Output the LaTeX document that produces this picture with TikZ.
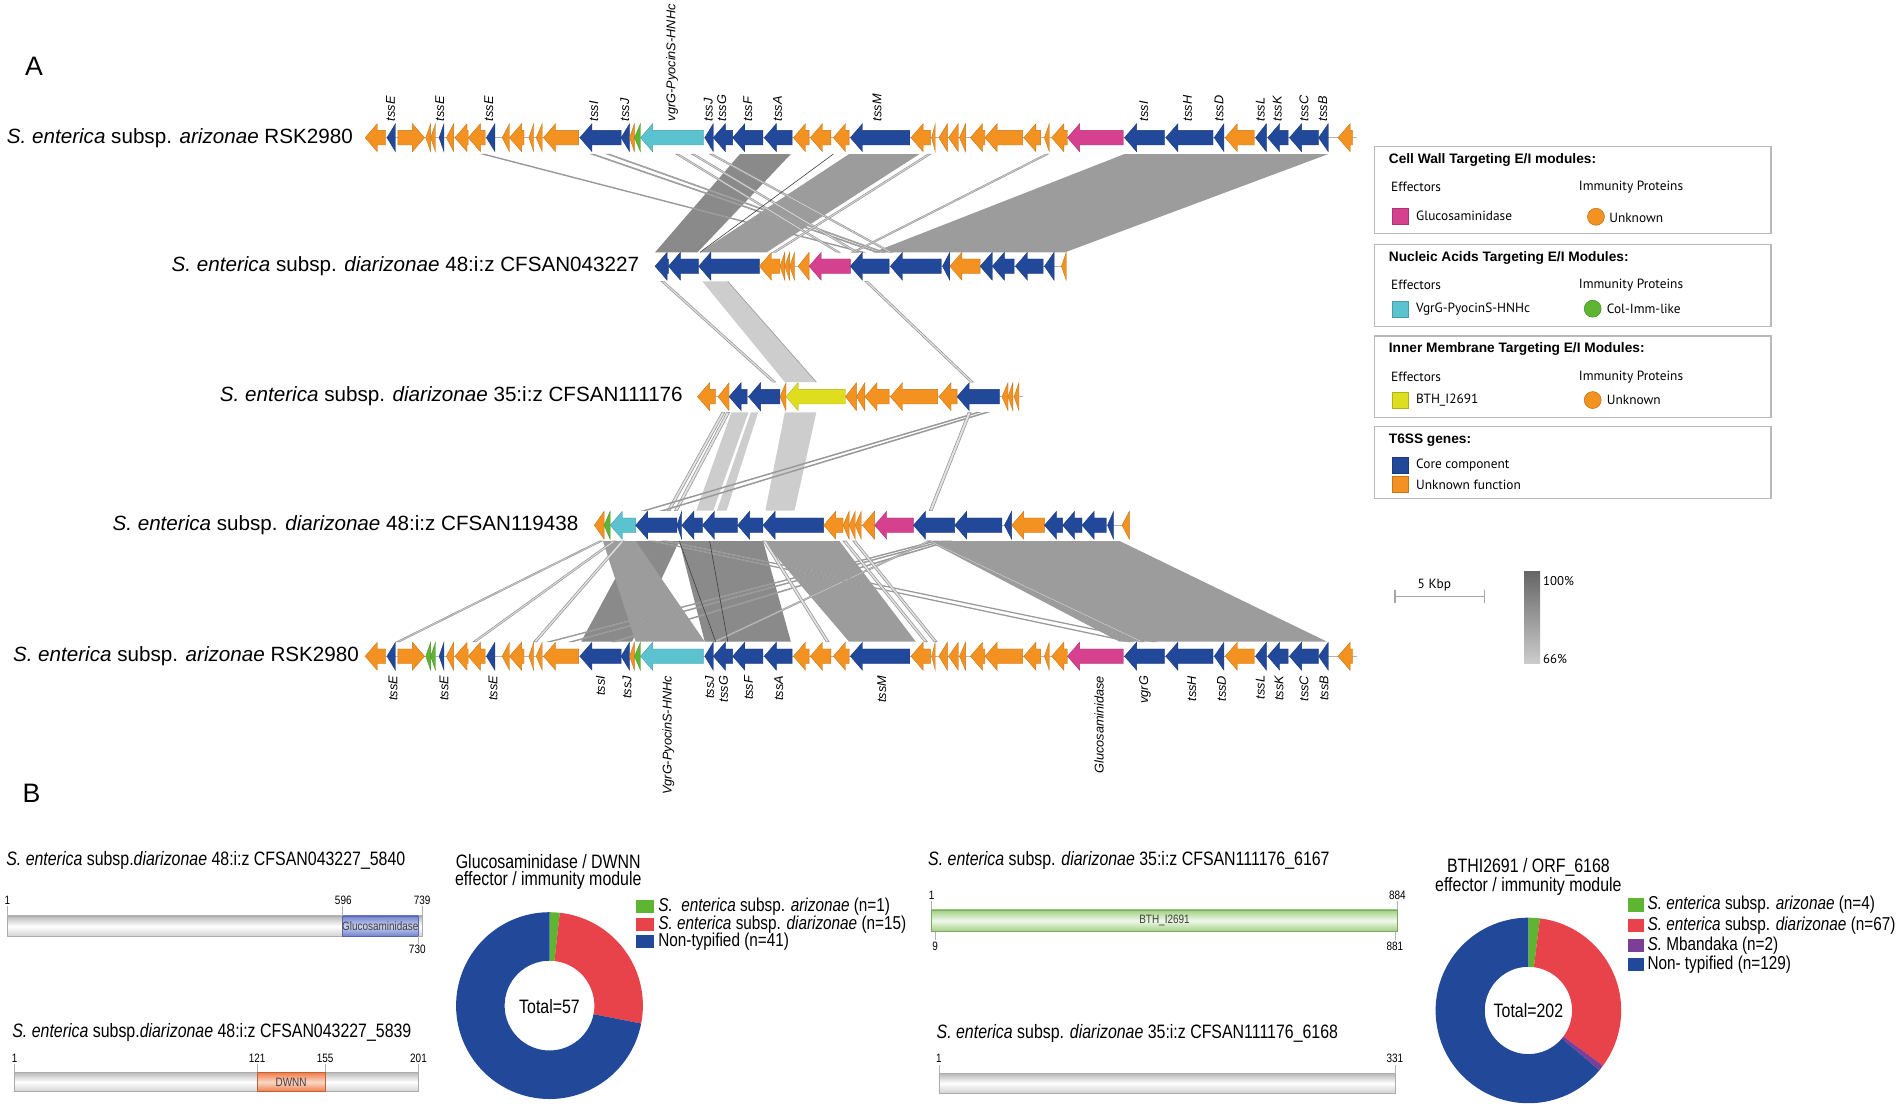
\documentclass[tikz,border=0pt]{standalone}
\usepackage{fontspec}
\setmainfont{Liberation Sans}
\newfontfamily\ptsans{PT Sans}
\newfontfamily\narrowf[FakeStretch=0.82]{Liberation Sans}
\definecolor{cOr}{HTML}{F39221}
\definecolor{cBl}{HTML}{22489A}
\definecolor{cCy}{HTML}{5BC3CF}
\definecolor{cGr}{HTML}{5DB531}
\definecolor{cMa}{HTML}{D6418F}
\definecolor{cYe}{HTML}{DEDD1E}
\definecolor{pRed}{HTML}{E8434A}
\definecolor{pPur}{HTML}{7B3F98}
\definecolor{rDk}{HTML}{8A8A8A}
\definecolor{rMd}{HTML}{9C9C9C}
\definecolor{rLt}{HTML}{CDCDCD}
\definecolor{gTop}{HTML}{666666}
\definecolor{gBot}{HTML}{CCCCCC}
\definecolor{dBl}{HTML}{6F80D0}
\definecolor{dOr}{HTML}{F07A45}
\definecolor{bGr}{HTML}{9FD07F}
\tikzset{
  gene/.style={fill=#1, draw=#1!80!black, line width=0.3pt},
  thn/.style={fill=gray!22, draw=gray!80, line width=0.5pt},
  bbone/.style={draw=gray!60, line width=0.6pt},
  tlab/.style={rotate=90, inner sep=0pt, font=\fontsize{10.5}{12}\selectfont\itshape},
  trk/.style={anchor=east, inner sep=0pt, font=\fontsize{17}{20}\selectfont},
  lbox/.style={draw=gray!55, line width=0.9pt},
  ltitle/.style={anchor=west, inner sep=0pt, font=\bfseries\fontsize{11.3}{13}\selectfont},
  ltext/.style={anchor=west, inner sep=0pt, font=\ptsans\fontsize{11}{13}\selectfont},
  nf/.style={anchor=west, inner sep=0pt, font=\narrowf\fontsize{16}{18}\selectfont},
  nlg/.style={anchor=west, inner sep=0pt, font=\narrowf\fontsize{15.4}{18}\selectfont},
  nfc/.style={inner sep=0pt, font=\narrowf\fontsize{16}{18}\selectfont},
  nsm/.style={inner sep=0pt, font=\narrowf\fontsize{10}{11}\selectfont},
  tck/.style={draw=gray!60, line width=0.4pt},
  pbar/.style={top color=gray!55, bottom color=gray!35, middle color=white, draw=gray!65, line width=0.4pt}
}
\newcommand\gn[5]{%
  \pgfmathsetmacro\gL{#3-#2}%
  \pgfmathsetmacro\gH{min(10,\gL)}%
  \if#4R
    \filldraw[gene=#5] (#3,#1) -- (#3-\gH,#1-11.5) -- (#3-\gH,#1-6) -- (#2,#1-6) -- (#2,#1+6) -- (#3-\gH,#1+6) -- (#3-\gH,#1+11.5) -- cycle;
  \else
    \filldraw[gene=#5] (#2,#1) -- (#2+\gH,#1-11.5) -- (#2+\gH,#1-6) -- (#3,#1-6) -- (#3,#1+6) -- (#2+\gH,#1+6) -- (#2+\gH,#1+11.5) -- cycle;
  \fi}
\newcommand\rib[7]{\fill[#1] (#3,#2) -- (#4,#2) -- (#7,#5) -- (#6,#5) -- cycle;}
\newcommand\thinl[4]{\filldraw[thn] (#2,#1) -- (#2+2.5,#1) -- (#4+2.5,#3) -- (#4,#3) -- cycle;}
\newcommand\rskgenes[3]{%
  \draw[bbone] (301,#1) -- (1119,#1);
  \foreach \xa/\xb/\dd/\cc in {301/318/L/cOr,319/326/L/cBl,328/350/R/cOr,351/355/L/#2,355/359/L/#3,362/366/L/cBl,368/374/L/cOr,375/386/L/cOr,386/400/L/cOr,401/408/L/cBl,414/420/L/cOr,420/432/L/cOr,436/440/L/cOr,442/447/L/cOr,448/477/L/cOr,478/512/L/cBl,512/519/L/cBl,519/523/L/cOr,523/528/L/cGr,528/580/L/cCy,581/588/L/cBl,588/604/L/cBl,604/629/L/cBl,630/653/L/cBl,654/667/L/cOr,668/685/L/cOr,687/700/L/cOr,701/750/L/cBl,751/767/L/cOr,768/771/L/cOr,774/781/L/cOr,782/790/L/cOr,791/796/L/cOr,800/812/L/cOr,812/843/L/cOr,844/858/L/cOr,861/865/L/cOr,867/880/L/cOr,880/926/L/cMa,927/960/L/cBl,961/1000/L/cBl,1001/1009/L/cBl,1010/1034/L/cOr,1035/1044/L/cBl,1045/1062/L/cBl,1063/1087/L/cBl,1087/1095/L/cBl,1103/1115/L/cOr}
    {\gn{#1}{\xa}{\xb}{\dd}{\cc}}}
\begin{document}
\begin{tikzpicture}[x=1pt,y=-1pt]
\fill[white] (0,0) rectangle (1568,914);
\useasboundingbox (0,0) rectangle (1568,914);

% panel letters
\node[font=\fontsize{22}{24}\selectfont] (pA) at (28,55) {A};
\node[font=\fontsize{22}{24}\selectfont] (pB) at (26,654) {B};

% ---------- ribbons 1-2
\rib{rDk}{127}{610}{652}{208}{540}{575}
\rib{rMd}{127}{700}{758}{208}{577}{632}
\rib{rMd}{127}{927}{1095}{208}{720}{878}
\thinl{127}{397}{208}{710}
\thinl{127}{487}{208}{722}
\thinl{127}{500}{208}{727}
\thinl{127}{557}{208}{690}
\thinl{127}{570}{208}{705}
\thinl{127}{585}{208}{733}
\draw[gray!50!black, line width=0.5pt] (687,127) -- (577,208);
\thinl{127}{765}{208}{637}
\thinl{127}{862}{208}{702}
% ---------- ribbons 2-3
\thinl{232}{545}{315}{637}
\rib{rLt}{232}{579}{600}{315}{647}{673}
\draw[gray!80, line width=0.5pt] (600,232) -- (673,315);
\thinl{232}{713}{315}{800}
% ---------- ribbons 3-4
\thinl{340}{595}{421}{550}
\thinl{340}{599}{421}{556}
\rib{rLt}{340}{603}{617}{421}{574}{588}
\rib{rLt}{340}{619}{625}{421}{591}{599}
\rib{rLt}{340}{647}{673}{421}{631}{655}
\thinl{340}{805}{421}{530}
\thinl{340}{812}{421}{545}
\thinl{340}{798}{421}{766}
% ---------- ribbons 4-5
\rib{rDk}{446}{524}{560}{529}{479}{521}
\rib{rMd}{446}{497}{524}{529}{524}{581}
\rib{rDk}{446}{560}{629}{529}{581}{652}
\rib{rMd}{446}{629}{692}{529}{700}{755}
\rib{rMd}{446}{765}{923}{529}{923}{1094}
\thinl{446}{494}{529}{327}
\thinl{446}{505}{529}{390}
\thinl{446}{512}{529}{440}
\thinl{446}{770}{529}{452}
\thinl{446}{776}{529}{470}
\thinl{446}{781}{529}{505}
\thinl{446}{765}{529}{588}
\thinl{446}{537}{529}{930}
\thinl{446}{548}{529}{950}
\thinl{446}{629}{529}{681}
\thinl{446}{695}{529}{762}
\thinl{446}{703}{529}{770}
\thinl{446}{765}{529}{940}
\draw[gray!50!black, line width=0.5pt] (560,446) -- (590,529);
\draw[gray!50!black, line width=0.5pt] (585,446) -- (600,529);

% ---------- track 1
\node[trk] (t1) at (291,113.5) {\textit{S. enterica} subsp. \textit{arizonae} RSK2980};
\rskgenes{113.5}{cOr}{cOr}
\foreach \x/\t [count=\i] in {322/tssE,362.5/tssE,403/tssE,489.5/tssI,515/tssJ,554/vgrG-PyocinS-HNHc,584/tssJ,595/tssG,616.5/tssF,641/tssA,723/tssM,943/tssI,979/tssH,1005/tssD,1039/tssL,1053/tssK,1075/tssC,1090.5/tssB}
  {\node[tlab, anchor=west] (ta\i) at (\x,100) {\t};}

% ---------- track 2
\node[trk] (t2) at (527,219.5) {\textit{S. enterica} subsp. \textit{diarizonae} 48:i:z CFSAN043227};
\draw[bbone] (540,219.5) -- (879,219.5);
\foreach \xa/\xb/\dd/\cc in {540/551/L/cBl,551/576/L/cBl,576/626/L/cBl,626/643/L/cOr,643/647/L/cOr,647/651/L/cOr,651/655/L/cOr,658/667/L/cOr,667/701/L/cMa,701/733/L/cBl,734/776/L/cBl,777/783/L/cBl,783/808/L/cOr,808/818/L/cBl,818/836/L/cBl,837/860/L/cBl,861/869/L/cBl,875/879/L/cOr}
  {\gn{219.5}{\xa}{\xb}{\dd}{\cc}}

% ---------- track 3
\node[trk] (t3) at (563,327) {\textit{S. enterica} subsp. \textit{diarizonae} 35:i:z CFSAN111176};
\draw[bbone] (575,327) -- (843,327);
\foreach \xa/\xb/\dd/\cc in {575/590/L/cOr,592/601/L/cOr,601/616/L/cBl,617/643/L/cBl,643/648/L/cOr,648/697/L/cYe,697/706/L/cOr,706/713/L/cOr,713/733/L/cOr,734/773/L/cOr,774/789/L/cOr,789/824/L/cBl,826/831/L/cOr,831/835/L/cOr,836/840/L/cOr}
  {\gn{327}{\xa}{\xb}{\dd}{\cc}}

% ---------- track 4
\node[trk] (t4) at (477,433) {\textit{S. enterica} subsp. \textit{diarizonae} 48:i:z CFSAN119438};
\draw[bbone] (490,433) -- (931,433);
\foreach \xa/\xb/\dd/\cc in {490/498/L/cOr,498/503/L/cGr,503/524/L/cCy,524/558/L/cBl,558/562/L/cBl,562/579/L/cBl,579/608/L/cBl,608/629/L/cBl,629/679/L/cBl,679/695/L/cOr,695/700/L/cOr,700/705/L/cOr,705/710/L/cOr,711/721/L/cOr,721/753/L/cMa,753/787/L/cBl,787/826/L/cBl,828/834/L/cBl,834/861/L/cOr,861/876/L/cBl,876/892/L/cBl,892/912/L/cBl,913/918/L/cBl,925/931/L/cOr}
  {\gn{433}{\xa}{\xb}{\dd}{\cc}}

% ---------- track 5
\node[trk] (t5) at (296,541) {\textit{S. enterica} subsp. \textit{arizonae} RSK2980};
\rskgenes{541}{cGr}{cGr}
\foreach \x/\t [count=\i] in {324/tssE,366/tssE,406.5/tssE,495/tssI,517/tssJ,551/VgrG-PyocinS-HNHc,585/tssJ,596.5/tssG,617/tssF,642/tssA,727/tssM,906/Glucosaminidase,944/vgrG,982.5/tssH,1007/tssD,1039/tssL,1054.5/tssK,1075/tssC,1091.5/tssB}
  {\node[tlab, anchor=east] (tb\i) at (\x,557) {\t};}

% ---------- legend boxes
\draw[lbox] (1133,121) rectangle (1460,192.4);
\node[ltitle] (l1t) at (1144.8,132) {Cell Wall Targeting E/I modules:};
\node[ltext] (l1e) at (1146.7,154) {Effectors};
\node[ltext] (l1i) at (1301.4,154) {Immunity Proteins};
\filldraw[fill=cMa, draw=cMa!80!black] (1147.6,171.5) rectangle (1161,185);
\node[ltext] (l1g) at (1167.3,178) {Glucosaminidase};
\filldraw[fill=cOr, draw=cOr!75!black] (1315.7,178.7) circle[radius=7pt];
\node[ltext] (l1u) at (1326.5,179.5) {Unknown};

\draw[lbox] (1133,201.5) rectangle (1460,268.8);
\node[ltitle] (l2t) at (1144.8,212.5) {Nucleic Acids Targeting E/I Modules:};
\node[ltext] (l2e) at (1146.7,235) {Effectors};
\node[ltext] (l2i) at (1301.4,235) {Immunity Proteins};
\filldraw[fill=cCy, draw=cCy!80!black] (1147.6,248) rectangle (1161,261.5);
\node[ltext] (l2g) at (1167.3,254.5) {VgrG-PyocinS-HNHc};
\filldraw[fill=cGr, draw=cGr!75!black] (1313,254.5) circle[radius=7pt];
\node[ltext] (l2u) at (1324.5,254.5) {Col-Imm-like};

\draw[lbox] (1133,277) rectangle (1460,344);
\node[ltitle] (l3t) at (1144.8,288) {Inner Membrane Targeting E/I Modules:};
\node[ltext] (l3e) at (1146.7,310.6) {Effectors};
\node[ltext] (l3i) at (1301.4,310.6) {Immunity Proteins};
\filldraw[fill=cYe, draw=cYe!80!black] (1147.6,323) rectangle (1161,336.5);
\node[ltext] (l3g) at (1167.3,329.8) {BTH\_I2691};
\filldraw[fill=cOr, draw=cOr!75!black] (1313,329.8) circle[radius=7pt];
\node[ltext] (l3u) at (1324.5,329.8) {Unknown};

\draw[lbox] (1133,351.8) rectangle (1460,411);
\node[ltitle] (l4t) at (1144.8,363) {T6SS genes:};
\filldraw[fill=cBl, draw=cBl!80!black] (1147.6,377) rectangle (1161,390);
\node[ltext] (l4c) at (1167.3,383.6) {Core component};
\filldraw[fill=cOr, draw=cOr!80!black] (1147.6,393) rectangle (1161,406);
\node[ltext] (l4u) at (1167.3,400) {Unknown function};

% ---------- scale bar and identity gradient
\draw[gray!70, line width=0.9pt] (1150,492) -- (1224,492);
\draw[gray!70, line width=0.9pt] (1150,486) -- (1150,497.5);
\draw[gray!70, line width=0.9pt] (1224,486) -- (1224,497.5);
\node[font=\ptsans\fontsize{11}{13}\selectfont] (kbp) at (1182.5,482) {5 Kbp};
\shade[top color=gTop, bottom color=gBot] (1256.4,471.3) rectangle (1269.6,546.9);
\node[anchor=west, inner sep=0pt, font=\ptsans\fontsize{10.5}{12}\selectfont] (p100) at (1272,479) {100\%};
\node[anchor=west, inner sep=0pt, font=\ptsans\fontsize{10.5}{12}\selectfont] (p66) at (1272,543) {66\%};

% ---------- panel B left
\node[nf] (b1) at (5,709) {\textit{S. enterica} subsp.\textit{diarizonae} 48:i:z CFSAN043227\_5840};
\shade[pbar] (6,755) rectangle (348,772);
\shade[top color=dBl, bottom color=dBl, middle color=dBl!35, draw=dBl!80!black, line width=0.4pt] (282,755) rectangle (345,772);
\node[nsm, text=black!75] (b1d) at (313.5,763.5) {Glucosaminidase};
\draw[tck] (6,747) -- (6,755); \draw[tck] (282,747) -- (282,755); \draw[tck] (348,747) -- (348,755); \draw[tck] (345,772) -- (345,778);
\node[nsm] (n1) at (6,742) {1};
\node[nsm] (n596) at (283,742) {596};
\node[nsm] (n739) at (348,742) {739};
\node[nsm] (n730) at (344,783) {730};

\node[nf] (b2) at (10,851) {\textit{S. enterica} subsp.\textit{diarizonae} 48:i:z CFSAN043227\_5839};
\shade[pbar] (12,884) rectangle (345,900);
\shade[top color=dOr, bottom color=dOr, middle color=dOr!30, draw=dOr!80!black, line width=0.4pt] (212,884) rectangle (268,900);
\node[nsm, text=black!75] (b2d) at (240,892) {DWNN};
\draw[tck] (12,877) -- (12,884); \draw[tck] (212,877) -- (212,884); \draw[tck] (268,877) -- (268,884); \draw[tck] (345,877) -- (345,884);
\node[nsm] (m1) at (12,872.5) {1};
\node[nsm] (m121) at (212,872.5) {121};
\node[nsm] (m155) at (268,872.5) {155};
\node[nsm] (m201) at (345,872.5) {201};

% donut 1
\node[nfc] (d1t1) at (452,710) {Glucosaminidase / DWNN};
\node[nfc] (d1t2) at (452,726) {effector / immunity module};
\begin{scope}[shift={(453,829)}, y=1pt]
  \fill[cGr] (90:77) arc[start angle=90, end angle=83.68, radius=77] -- (83.68:37) arc[start angle=83.68, end angle=90, radius=37] -- cycle;
  \fill[pRed] (83.68:77) arc[start angle=83.68, end angle=-11.05, radius=77] -- (-11.05:37) arc[start angle=-11.05, end angle=83.68, radius=37] -- cycle;
  \fill[cBl] (-11.05:77) arc[start angle=-11.05, end angle=-270, radius=77] -- (-270:37) arc[start angle=-270, end angle=-11.05, radius=37] -- cycle;
\end{scope}
\node[nfc] (tot1) at (453,830) {Total=57};
\fill[cGr] (524.5,742) rectangle (539.5,753);
\fill[pRed] (524.5,756.5) rectangle (539.5,767.5);
\fill[cBl] (524.5,770.5) rectangle (539.5,781.5);
\node[nlg] (lg1) at (542.5,747.5) {\textit{S.}\ \ \textit{enterica} subsp. \textit{arizonae} (n=1)};
\node[nlg] (lg2) at (542.5,762) {\textit{S. enterica} subsp. \textit{diarizonae} (n=15)};
\node[nlg] (lg3) at (542.5,776) {Non-typified (n=41)};

% ---------- panel B right
\node[nf] (c1) at (765,709) {\textit{S. enterica} subsp. \textit{diarizonae} 35:i:z CFSAN111176\_6167};
\shade[top color=bGr, bottom color=bGr, middle color=bGr!15, draw=bGr!80!black, line width=0.4pt] (768,750) rectangle (1152,768);
\node[nsm, text=black!75] (c1d) at (960,759) {BTH\_I2691};
\draw[tck] (768,743) -- (768,750); \draw[tck] (1152,743) -- (1152,750); \draw[tck] (771,768) -- (771,775); \draw[tck] (1150,768) -- (1150,775);
\node[nsm] (k1) at (768,738) {1};
\node[nsm] (k884) at (1152,738) {884};
\node[nsm] (k9) at (771,780) {9};
\node[nsm] (k881) at (1150,780) {881};

\node[nf] (c2) at (772,852) {\textit{S. enterica} subsp. \textit{diarizonae} 35:i:z CFSAN111176\_6168};
\shade[pbar] (774,885) rectangle (1150,901);
\draw[tck] (774,878) -- (774,885); \draw[tck] (1150,878) -- (1150,885);
\node[nsm] (j1) at (774,872.5) {1};
\node[nsm] (j331) at (1150,872.5) {331};

% donut 2
\node[nfc] (d2t1) at (1260,715) {BTHI2691 / ORF\_6168};
\node[nfc] (d2t2) at (1260,730.5) {effector / immunity module};
\begin{scope}[shift={(1260,833)}, y=1pt]
  \fill[cGr] (90:76.5) arc[start angle=90, end angle=82.87, radius=76.5] -- (82.87:36) arc[start angle=82.87, end angle=90, radius=36] -- cycle;
  \fill[pRed] (82.87:76.5) arc[start angle=82.87, end angle=-36.53, radius=76.5] -- (-36.53:36) arc[start angle=-36.53, end angle=82.87, radius=36] -- cycle;
  \fill[pPur] (-36.53:76.5) arc[start angle=-36.53, end angle=-40.1, radius=76.5] -- (-40.1:36) arc[start angle=-40.1, end angle=-36.53, radius=36] -- cycle;
  \fill[cBl] (-40.1:76.5) arc[start angle=-40.1, end angle=-270, radius=76.5] -- (-270:36) arc[start angle=-270, end angle=-40.1, radius=36] -- cycle;
\end{scope}
\node[nfc] (tot2) at (1260,833) {Total=202};
\fill[cGr] (1342,740.5) rectangle (1355,751.5);
\fill[pRed] (1342,757.5) rectangle (1355,768.5);
\fill[pPur] (1342,774) rectangle (1355,785);
\fill[cBl] (1342,789.5) rectangle (1355,800.5);
\node[nlg] (rg1) at (1358,746) {\textit{S. enterica} subsp. \textit{arizonae} (n=4)};
\node[nlg] (rg2) at (1358,763) {\textit{S. enterica} subsp. \textit{diarizonae} (n=67)};
\node[nlg] (rg3) at (1358,779.7) {\textit{S.} Mbandaka (n=2)};
\node[nlg] (rg4) at (1358,795) {Non- typified (n=129)};
\end{tikzpicture}
\end{document}
